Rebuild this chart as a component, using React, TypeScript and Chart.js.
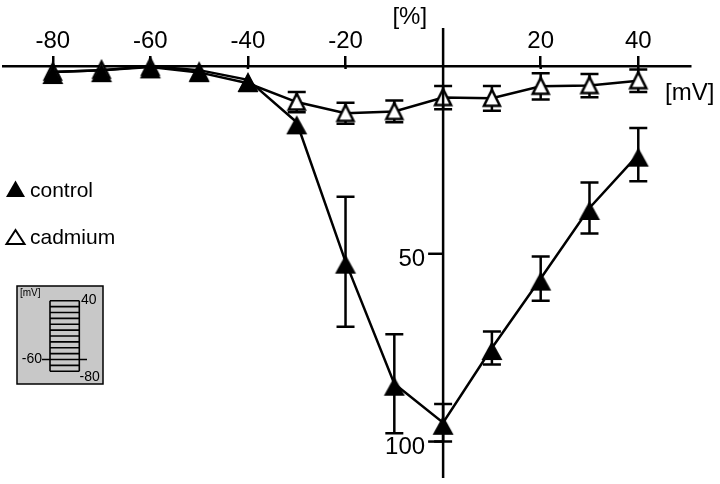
import React, { useEffect, useRef } from 'react';
import { Chart, registerables } from 'chart.js';

Chart.register(...registerables);

// ---- data ----
const voltages = [-80, -70, -60, -50, -40, -30, -20, -10, 0, 10, 20, 30, 40];
const controlValues = [1.6, 1.1, 0.1, 1.1, 3.7, 15, 52.1, 84.6, 95, 75.1, 56.6, 37.8, 23.6];
const controlErrors = [0, 0, 0, 0, 0, 0, 17.3, 13.2, 5, 4.4, 5.9, 6.8, 7.1];
const cadmiumValues = [1.6, 1.1, 0.3, 1.7, 4.6, 9.6, 12.6, 12.1, 8.4, 8.6, 5.4, 5.2, 3.9];
const cadmiumErrors = [0, 0, 0, 0, 0, 2.7, 2.8, 2.9, 3.1, 3.3, 3.5, 3.1, 3.0];
const xTickValues = [-80, -60, -40, -20, 20, 40];
const yTickValues = [50, 100];
const seriesNames = ['control', 'cadmium'];
const xUnit = '[mV]';
const yUnit = '[%]';
const protocolSteps = [40, 30, 20, 10, 0, -10, -20, -30, -40, -50, -60, -70, -80];
const holdingPotential = -60;
const protocolLabels = ['40', '-60', '-80'];

const FONT = '"Liberation Sans", Arial, Helvetica, sans-serif';

function makeFilledTriangle(): HTMLCanvasElement {
  const c = document.createElement('canvas');
  c.width = 24;
  c.height = 28;
  const g = c.getContext('2d')!;
  g.fillStyle = '#000';
  g.beginPath();
  g.moveTo(12, 7);
  g.lineTo(22.5, 26);
  g.lineTo(1.5, 26);
  g.closePath();
  g.fill();
  return c;
}

function makeOpenTriangle(): HTMLCanvasElement {
  const c = document.createElement('canvas');
  c.width = 22;
  c.height = 26;
  const g = c.getContext('2d')!;
  g.beginPath();
  g.moveTo(11, 4.5);
  g.lineTo(19, 20.5);
  g.lineTo(3, 20.5);
  g.closePath();
  g.fillStyle = '#fff';
  g.fill();
  g.lineWidth = 2.5;
  g.lineJoin = 'miter';
  g.strokeStyle = '#000';
  g.stroke();
  return c;
}

const errorBarPlugin = {
  id: 'errorBars',
  beforeDatasetsDraw(chart: any) {
    const { ctx } = chart;
    const xs = chart.scales.x;
    const ys = chart.scales.y;
    ctx.save();
    ctx.strokeStyle = '#000';
    ctx.lineWidth = 2.5;
    const sets: [number[], number[]][] = [
      [cadmiumValues, cadmiumErrors],
      [controlValues, controlErrors],
    ];
    sets.forEach(([vals, errs]) => {
      voltages.forEach((v, i) => {
        if (!errs[i]) return;
        const px = xs.getPixelForValue(v);
        const top = ys.getPixelForValue(vals[i] - errs[i]);
        const bot = ys.getPixelForValue(vals[i] + errs[i]);
        ctx.beginPath();
        ctx.moveTo(px, top);
        ctx.lineTo(px, bot);
        ctx.moveTo(px - 9, top);
        ctx.lineTo(px + 9, top);
        ctx.moveTo(px - 9, bot);
        ctx.lineTo(px + 9, bot);
        ctx.stroke();
      });
    });
    ctx.restore();
  },
};

const overlayPlugin = {
  id: 'overlay',
  afterDatasetsDraw(chart: any) {
    const { ctx, chartArea } = chart;
    const xs = chart.scales.x;
    const ys = chart.scales.y;
    const x0 = xs.getPixelForValue(0);
    ctx.save();
    ctx.strokeStyle = '#000';
    ctx.fillStyle = '#000';
    ctx.lineWidth = 2.5;
    // x-axis ticks cross slightly below the axis line
    xTickValues.forEach((v) => {
      const px = xs.getPixelForValue(v);
      ctx.beginPath();
      ctx.moveTo(px, chartArea.top);
      ctx.lineTo(px, chartArea.top + 3);
      ctx.stroke();
    });
    // vertical axis
    ctx.beginPath();
    ctx.moveTo(x0, chartArea.top - 38);
    ctx.lineTo(x0, chartArea.bottom - 6);
    ctx.stroke();
    // y ticks + labels
    ctx.font = `24px ${FONT}`;
    ctx.textAlign = 'right';
    ctx.textBaseline = 'middle';
    yTickValues.forEach((v) => {
      const py = ys.getPixelForValue(v);
      ctx.beginPath();
      ctx.moveTo(x0 - 15, py);
      ctx.lineTo(x0, py);
      ctx.stroke();
      ctx.fillText(String(v), x0 - 18, py + 6);
    });
    // unit labels
    ctx.textBaseline = 'alphabetic';
    ctx.textAlign = 'right';
    ctx.fillText(yUnit, x0 - 16, chartArea.top - 42);
    ctx.textAlign = 'left';
    ctx.fillText(xUnit, chartArea.right - 25, chartArea.top + 34);
    ctx.restore();
  },
  afterDraw(chart: any) {
    const { ctx } = chart;
    ctx.save();
    // legend
    ctx.fillStyle = '#000';
    ctx.strokeStyle = '#000';
    ctx.beginPath();
    ctx.moveTo(15.5, 180.5);
    ctx.lineTo(25, 197);
    ctx.lineTo(6, 197);
    ctx.closePath();
    ctx.fill();
    ctx.beginPath();
    ctx.moveTo(15.5, 230);
    ctx.lineTo(24.5, 244);
    ctx.lineTo(6.5, 244);
    ctx.closePath();
    ctx.lineWidth = 2;
    ctx.lineJoin = 'miter';
    ctx.stroke();
    ctx.font = `21px ${FONT}`;
    ctx.textAlign = 'left';
    ctx.textBaseline = 'alphabetic';
    ctx.fillText(seriesNames[0], 30, 196.5);
    ctx.fillText(seriesNames[1], 30, 243.5);

    // inset: voltage protocol
    const bx = 17, by = 286, bw = 86, bh = 98;
    ctx.fillStyle = '#c8c8c8';
    ctx.fillRect(bx, by, bw, bh);
    ctx.lineWidth = 1.5;
    ctx.strokeRect(bx, by, bw, bh);
    const top = 300.7, bottom = 371.3, left = 50, right = 79.3;
    const vmax = protocolSteps[0];
    const vmin = protocolSteps[protocolSteps.length - 1];
    const vy = (v: number) => top + ((vmax - v) / (vmax - vmin)) * (bottom - top);
    ctx.lineWidth = 1.6;
    ctx.beginPath();
    ctx.moveTo(left, top);
    ctx.lineTo(left, bottom);
    ctx.moveTo(right, top);
    ctx.lineTo(right, bottom);
    protocolSteps.forEach((v) => {
      const y = vy(v);
      if (v === holdingPotential) {
        ctx.moveTo(42, y);
        ctx.lineTo(87, y);
      } else {
        ctx.moveTo(left, y);
        ctx.lineTo(right, y);
      }
    });
    ctx.stroke();
    ctx.fillStyle = '#000';
    ctx.font = `10px ${FONT}`;
    ctx.fillText(xUnit, 20, 296);
    ctx.font = `14px ${FONT}`;
    ctx.fillText(protocolLabels[0], 81, 304);
    ctx.fillText(protocolLabels[2], 79.5, 380.5);
    ctx.textAlign = 'right';
    ctx.textBaseline = 'middle';
    ctx.fillText(protocolLabels[1], 42, vy(holdingPotential));
    ctx.restore();
  },
};

export default function App() {
  const ref = useRef<HTMLCanvasElement | null>(null);
  useEffect(() => {
    if (!ref.current) return;
    const filled = makeFilledTriangle();
    const open = makeOpenTriangle();
    const chart = new Chart(ref.current, {
      type: 'line',
      data: {
        datasets: [
          {
            label: seriesNames[0],
            data: voltages.map((v, i) => ({ x: v, y: controlValues[i] })),
            borderColor: '#000',
            borderWidth: 2.5,
            pointStyle: filled as any,
            pointRadius: 10,
            tension: 0,
            fill: false,
            clip: false as any,
          },
          {
            label: seriesNames[1],
            data: voltages.map((v, i) => ({ x: v, y: cadmiumValues[i] })),
            borderColor: '#000',
            borderWidth: 2.5,
            pointStyle: open as any,
            pointRadius: 10,
            tension: 0,
            fill: false,
            clip: false as any,
          },
        ],
      },
      options: {
        animation: false,
        responsive: false,
        devicePixelRatio: 1,
        events: [],
        layout: { autoPadding: false, padding: { top: 27.2, left: 3, right: 30, bottom: 0 } },
        plugins: { legend: { display: false }, tooltip: { enabled: false } },
        scales: {
          x: {
            type: 'linear',
            position: 'top',
            min: -90.2,
            max: 50.6,
            afterBuildTicks: (s: any) => {
              s.ticks = xTickValues.map((v) => ({ value: v }));
            },
            ticks: {
              callback: (v: any) => String(v),
              font: { family: FONT, size: 24 },
              color: '#000',
              padding: 0,
              maxRotation: 0,
              autoSkip: false,
            },
            grid: {
              display: true,
              drawOnChartArea: false,
              drawTicks: true,
              tickLength: 10,
              color: '#000',
              lineWidth: 2.5,
            },
            border: { display: true, color: '#000', width: 2.5 },
          },
          y: {
            type: 'linear',
            display: false,
            reverse: true,
            min: 0,
            max: 111.3,
          },
        },
      } as any,
      plugins: [errorBarPlugin, overlayPlugin],
    });
    return () => chart.destroy();
  }, []);
  return (
    <div style={{ position: 'absolute', left: 0, top: 0, width: 720, height: 484, background: '#fff' }}>
      <canvas ref={ref} width={720} height={484} style={{ display: 'block' }} />
    </div>
  );
}
